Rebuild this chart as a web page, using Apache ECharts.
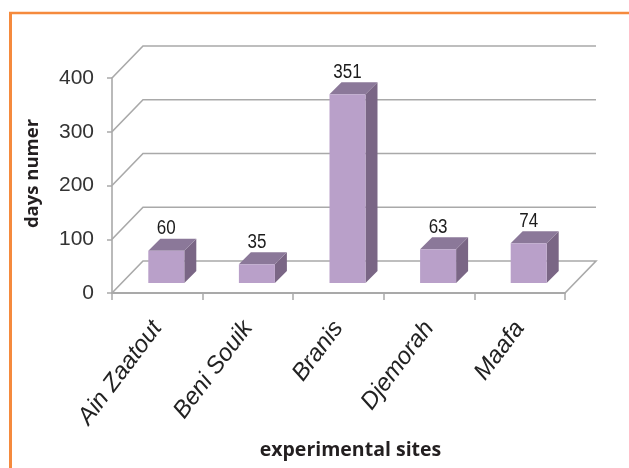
<!DOCTYPE html>
<html>
<head>
<meta charset="utf-8">
<style>html,body{margin:0;padding:0;background:#fff}#c{width:629px;height:468px}</style>
<script src="https://cdn.jsdelivr.net/npm/echarts@6/dist/echarts.min.js"></script>
</head>
<body>
<div id="c"></div>
<script>
const categories = ['Ain Zaatout', 'Beni Souik', 'Branis', 'Djemorah', 'Maafa'];
const days = [60, 35, 351, 63, 74];
const yTicks = [0, 100, 200, 300, 400];

const WALL_DX = 31, WALL_DY = -32;
const BAR_INSET = 10, BAR_DEPTH = 12, BAR_WIDTH = 36;
const LINE = '#a9a9a9';

const chart = echarts.init(document.getElementById('c'), null, {renderer: 'canvas'});

function renderWall(params, api) {
  const v = api.value(1);
  const half = api.size([1, 0])[0] / 2;
  const l = api.coord([0, v])[0] - half;
  const r = api.coord([categories.length - 1, v])[0] + half;
  const y = api.coord([0, v])[1];
  const pts = [[l, y], [l + WALL_DX, y + WALL_DY], [r + WALL_DX, y + WALL_DY]];
  if (v === 0) pts.push([r, y]);
  return {type: 'polyline', shape: {points: pts}, style: {stroke: LINE, lineWidth: 1.6, fill: null}};
}

function renderBar(params, api) {
  const i = api.value(0), v = api.value(1);
  const base = api.coord([i, 0]), top = api.coord([i, v]);
  const xl = base[0] - BAR_WIDTH / 2 + BAR_INSET - 1;
  const xr = xl + BAR_WIDTH;
  const yb = base[1] - BAR_INSET;
  const yt = top[1] - BAR_INSET;
  const d = BAR_DEPTH;
  return {type: 'group', children: [
    {type: 'polygon', shape: {points: [[xr, yb], [xr + d, yb - d], [xr + d, yt - d], [xr, yt]]}, style: {fill: '#7a6685'}},
    {type: 'polygon', shape: {points: [[xl, yt], [xr, yt], [xr + d, yt - d], [xl + d, yt - d]]}, style: {fill: '#8b7899'}},
    {type: 'rect', shape: {x: xl, y: yt, width: BAR_WIDTH, height: yb - yt}, style: {fill: '#b9a0c9'}},
    {type: 'text', x: (xl + xr) / 2, y: yt - d, scaleX: 0.85, style: {
      text: String(v), fill: '#1c1c1c', fontFamily: '"Liberation Sans"',
      fontSize: 20, align: 'center', verticalAlign: 'bottom'}}
  ]};
}

chart.setOption({
  animation: false,
  backgroundColor: '#fff',
  graphic: [
    {type: 'line', shape: {x1: 10.5, y1: 13, x2: 10.5, y2: 468}, style: {stroke: '#f58a3d', lineWidth: 3}},
    {type: 'line', shape: {x1: 9, y1: 13, x2: 629, y2: 13}, style: {stroke: '#f58a3d', lineWidth: 2.5}}
  ],
  grid: {left: 112, right: 64, top: 78, bottom: 175, outerBoundsMode: 'none'},
  xAxis: {
    type: 'category',
    data: categories,
    name: 'experimental sites',
    nameLocation: 'middle',
    nameGap: 147,
    nameTextStyle: {fontFamily: '"Open Sans"', fontWeight: 'bold', fontSize: 19.5, color: '#231f20', padding: [0, 0, 0, 24]},
    axisLine: {lineStyle: {color: LINE, width: 2}},
    axisTick: {show: true, length: 7, alignWithLabel: false, lineStyle: {color: LINE, width: 1.5}},
    axisLabel: {rotate: 53, interval: 0, margin: 31, fontFamily: '"Liberation Sans"', fontStyle: 'italic', fontSize: 24, color: '#222'}
  },
  yAxis: {
    type: 'value',
    min: 0, max: 400, interval: 100,
    name: 'days numer',
    nameLocation: 'middle',
    nameGap: 70,
    nameTextStyle: {fontFamily: '"Open Sans"', fontWeight: 'bold', fontSize: 18.5, color: '#231f20', padding: [0, 0, 0, 24]},
    axisLine: {show: true, lineStyle: {color: LINE, width: 1.6}},
    axisTick: {show: true, length: 5, lineStyle: {color: LINE, width: 1.5}},
    axisLabel: {margin: 18, fontFamily: '"Liberation Sans"', fontSize: 21, color: '#333'},
    splitLine: {show: false}
  },
  series: [
    {type: 'custom', name: 'wall', renderItem: renderWall, clip: false, silent: true, z: 1,
     data: yTicks.map(v => [0, v])},
    {type: 'custom', name: 'days', renderItem: renderBar, clip: false, z: 5,
     data: days.map((v, i) => [i, v])}
  ]
});
</script>
</body>
</html>
